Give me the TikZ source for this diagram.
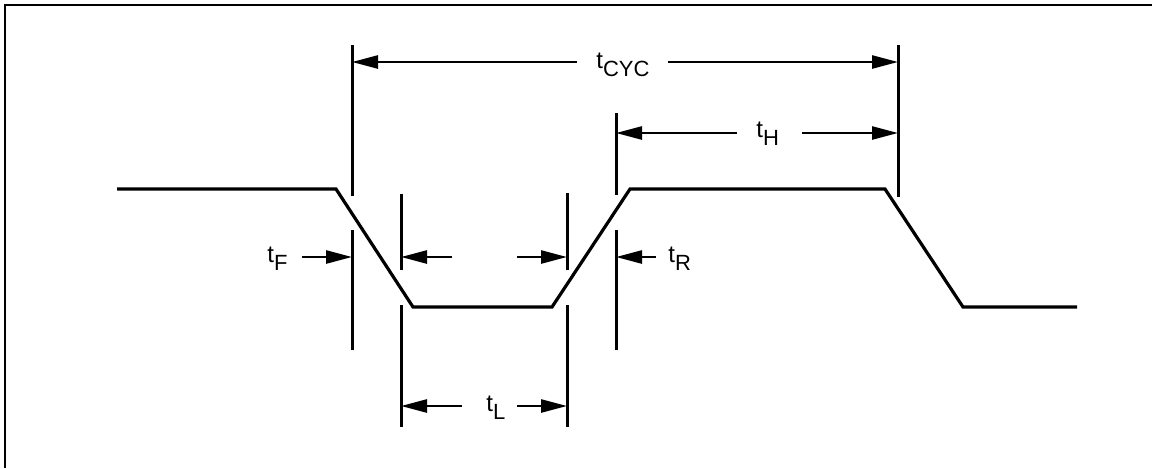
\documentclass[tikz,border=0pt]{standalone}
\usepackage{fontspec}
\setmainfont{Liberation Sans}
\usetikzlibrary{arrows.meta}
\newcommand\tlbl[1]{t\raisebox{-4pt}{\fontsize{11}{12}\selectfont #1}}
\begin{document}
\begin{tikzpicture}[x=0.5pt,y=-0.5pt,
  wave/.style={line width=1.6pt, line join=miter},
  extline/.style={line width=1.5pt},
  dimarrow/.style={line width=1.3pt, -{Triangle[length=13pt,width=6.5pt]}},
  lbl/.style={font=\fontsize{12}{14}\selectfont, inner sep=0pt, anchor=base west},
  frameline/.style={line width=1.4pt}]
\useasboundingbox[fill=white] (0,0) rectangle (1152,468);
% frame (cut off at right and bottom)
\draw[frameline] (5,468) -- (5,5) -- (1152,5);
% waveform
\coordinate (w0) at (117,189);
\coordinate (w1) at (336,189);
\coordinate (w2) at (413,307);
\coordinate (w3) at (552,307);
\coordinate (w4) at (630,189);
\coordinate (w5) at (885,189);
\coordinate (w6) at (963,307);
\coordinate (w7) at (1077,307);
\draw[wave] (w0) -- (w1) -- (w2) -- (w3) -- (w4) -- (w5) -- (w6) -- (w7);
% extension lines
\draw[extline] (352,45) -- (352,196) (352,230) -- (352,350);
\draw[extline] (401,194) -- (401,270) (401,305) -- (401,427);
\draw[extline] (567,193) -- (567,270) (567,305) -- (567,427);
\draw[extline] (616,113) -- (616,195) (616,230) -- (616,350);
\draw[extline] (898,45) -- (898,197);
% labels
\node[lbl] (cyc) at (596,68) {\tlbl{CYC}};
\node[lbl] (th) at (756,137) {\tlbl{H}};
\node[lbl] (tf) at (267,262) {\tlbl{F}};
\node[lbl] (tr) at (668,262) {\tlbl{R}};
\node[lbl] (tl) at (486,411) {\tlbl{L}};
% dimension arrows
\draw[dimarrow] (577,62) -- (352,62);
\draw[dimarrow] (668,62) -- (898,62);
\draw[dimarrow] (737,133) -- (616,133);
\draw[dimarrow] (802,133) -- (898,133);
\draw[dimarrow] (302,257) -- (352,257);
\draw[dimarrow] (452,257) -- (401,257);
\draw[dimarrow] (517,257) -- (567,257);
\draw[dimarrow] (656,257) -- (616,257);
\draw[dimarrow] (462,406) -- (401,406);
\draw[dimarrow] (517,406) -- (567,406);
\end{tikzpicture}
\end{document}
